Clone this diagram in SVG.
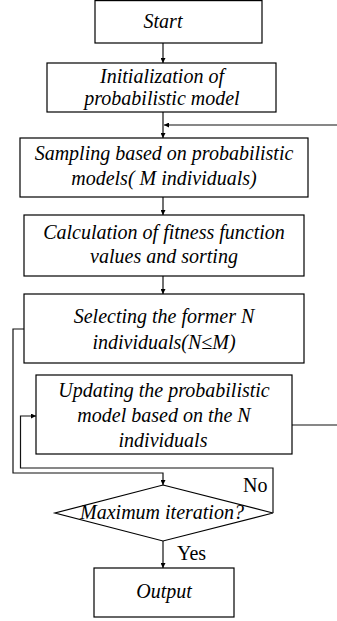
<svg xmlns="http://www.w3.org/2000/svg" width="337" height="621" viewBox="0 0 337 621">
<style>
.box{fill:#fff;stroke:#000;stroke-width:1.2}
.ln{fill:none;stroke:#111;stroke-width:1.2}
text{font-family:'Liberation Serif','Times New Roman',serif;font-size:20px;fill:#000}
.t{font-style:italic;text-anchor:middle}
</style>
<defs>
<marker id="ah" viewBox="0 0 10 10" refX="10" refY="5" markerWidth="5" markerHeight="5" markerUnits="userSpaceOnUse" orient="auto">
<path d="M0,0L10,5L0,10z" fill="#000"/>
</marker>
</defs>
<g id="connectors">
<line class="ln" x1="163" y1="43" x2="163" y2="63" marker-end="url(#ah)"/>
<line class="ln" x1="163" y1="112" x2="163" y2="138" marker-end="url(#ah)"/>
<line class="ln" x1="337" y1="125" x2="164" y2="125" marker-end="url(#ah)"/>
<line class="ln" x1="163" y1="197" x2="163" y2="215" marker-end="url(#ah)"/>
<line class="ln" x1="163" y1="276" x2="163" y2="294" marker-end="url(#ah)"/>
<polyline class="ln" points="24,329 13,329 13,473 163,473 163,485" marker-end="url(#ah)"/>
<polyline class="ln" points="273,513 273,468 20.5,468 20.5,416 36,416" marker-end="url(#ah)"/>
<line class="ln" x1="292" y1="425" x2="337" y2="425"/>
<line class="ln" x1="163" y1="541" x2="163" y2="568" marker-end="url(#ah)"/>
<text x="243" y="492">No</text>
<text x="177" y="560">Yes</text>
</g>
<g id="start">
<rect class="box" x="95" y="0.6" width="167" height="42.4"/>
<text class="t" x="163" y="28">Start</text>
</g>
<g id="init">
<rect class="box" x="47" y="63" width="229" height="49"/>
<text class="t" x="162" y="83">Initialization of</text>
<text class="t" x="162" y="105">probabilistic model</text>
</g>
<g id="sampling">
<rect class="box" x="20" y="138" width="288" height="59"/>
<text class="t" x="164" y="160">Sampling based on probabilistic</text>
<text class="t" x="164" y="185">models(<tspan dx="5">M individuals)</tspan></text>
</g>
<g id="calc">
<rect class="box" x="24" y="215" width="280" height="61"/>
<text class="t" x="164" y="239">Calculation of fitness function</text>
<text class="t" x="164" y="263">values and sorting</text>
</g>
<g id="select">
<rect class="box" x="24" y="294" width="280" height="69"/>
<text class="t" x="164" y="323">Selecting the former N</text>
<text class="t" x="164" y="349">individuals(N≤M)</text>
</g>
<g id="update">
<rect class="box" x="36" y="375" width="256" height="79"/>
<text class="t" x="164" y="397">Updating the probabilistic</text>
<text class="t" x="164" y="422">model based on the N</text>
<text class="t" x="163" y="447">individuals</text>
</g>
<g id="decision">
<polygon class="box" points="163,485 273,513 163,541 55,513"/>
<text class="t" x="162" y="519">Maximum iteration?</text>
</g>
<g id="output">
<rect class="box" x="94" y="568" width="140" height="49"/>
<text class="t" x="164" y="598">Output</text>
</g>
</svg>
